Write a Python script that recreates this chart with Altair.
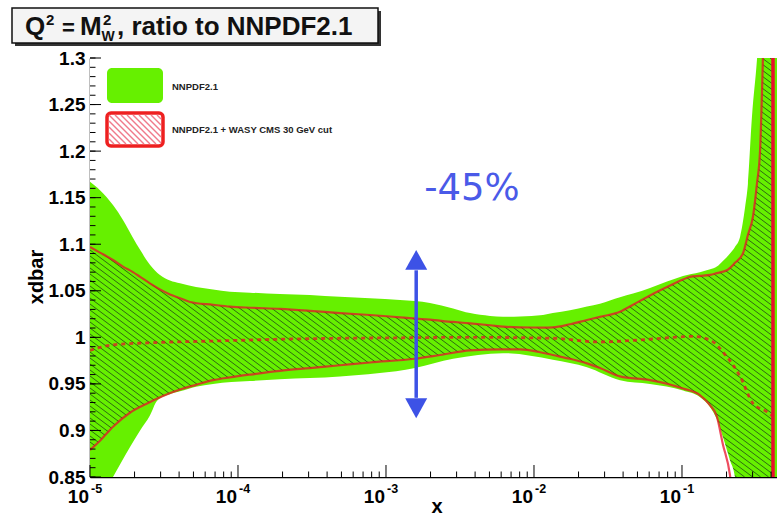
import altair as alt
import pandas as pd

# ---------------- data ----------------
green_up_x = [1.0e-5, 1.168e-5, 1.43e-5, 1.67e-5, 1.95e-5, 2.18e-5, 2.54e-5, 2.97e-5, 3.47e-5, 4.06e-5,
              5.20e-5, 6.78e-5, 8.83e-5, 1.205e-4, 1.92e-4, 3.06e-4, 4.89e-4, 7.80e-4, 1.245e-3, 1.98e-3,
              2.84e-3, 3.70e-3, 5.05e-3, 6.18e-3, 8.04e-3, 1.15e-2, 1.34e-2, 1.75e-2, 2.28e-2, 2.79e-2,
              3.81e-2, 4.67e-2, 6.08e-2, 7.92e-2, 1.016e-1, 1.32e-1, 1.55e-1, 1.72e-1, 1.89e-1, 2.11e-1,
              2.28e-1, 2.47e-1, 2.67e-1, 2.79e-1, 2.97e-1, 3.21e-1, 3.64e-1, 4.385e-1]
green_up_y = [1.167, 1.158, 1.142, 1.126, 1.107, 1.094, 1.078, 1.067, 1.061, 1.058,
              1.054, 1.0515, 1.049, 1.048, 1.0465, 1.0455, 1.0435, 1.042, 1.040, 1.037,
              1.031, 1.026, 1.023, 1.022, 1.0225, 1.024, 1.026, 1.029, 1.033, 1.036,
              1.043, 1.047, 1.053, 1.060, 1.066, 1.070, 1.073, 1.076, 1.082, 1.090,
              1.097, 1.108, 1.140, 1.165, 1.237, 1.298, 1.45, 1.6]

green_lo_x = [1.0e-5, 1.168e-5, 1.43e-5, 1.86e-5, 2.18e-5, 2.54e-5, 2.84e-5, 3.47e-5, 4.06e-5, 5.20e-5,
              6.78e-5, 1.205e-4, 1.92e-4, 4.89e-4, 1.57e-3, 2.84e-3, 6.18e-3, 1.34e-2, 2.28e-2, 3.81e-2,
              6.08e-2, 1.016e-1, 1.32e-1, 1.55e-1, 1.72e-1, 1.89e-1, 2.11e-1, 2.28e-1, 2.67e-1, 4.385e-1]
green_lo_y = [0.80, 0.825, 0.85, 0.882, 0.90, 0.916, 0.932, 0.939, 0.942, 0.947,
              0.950, 0.953, 0.955, 0.958, 0.967, 0.977, 0.983, 0.976, 0.968, 0.954,
              0.950, 0.943, 0.936, 0.925, 0.912, 0.893, 0.868, 0.850, 0.70, 0.60]

red_up_x = [1.0e-5, 1.168e-5, 1.43e-5, 1.67e-5, 1.95e-5, 2.18e-5, 2.54e-5, 2.97e-5, 3.47e-5, 4.06e-5,
            4.74e-5, 6.78e-5, 8.83e-5, 1.205e-4, 1.92e-4, 3.06e-4, 4.89e-4, 7.80e-4, 1.245e-3, 1.98e-3,
            2.84e-3, 3.70e-3, 5.05e-3, 6.18e-3, 8.04e-3, 1.15e-2, 1.34e-2, 1.75e-2, 2.28e-2, 2.79e-2,
            3.81e-2, 4.67e-2, 6.08e-2, 7.92e-2, 1.016e-1, 1.13e-1, 1.32e-1, 1.55e-1, 1.72e-1, 2.01e-1,
            2.28e-1, 2.58e-1, 2.79e-1, 3.02e-1, 3.21e-1, 3.37e-1, 3.52e-1, 3.75e-1, 4.12e-1]
red_up_y = [1.097, 1.091, 1.083, 1.076, 1.070, 1.065, 1.058, 1.0515, 1.046, 1.042,
            1.038, 1.035, 1.033, 1.0318, 1.0306, 1.0285, 1.026, 1.024, 1.0215, 1.019,
            1.0165, 1.015, 1.013, 1.0115, 1.0107, 1.0105, 1.0107, 1.014, 1.0186, 1.022,
            1.0275, 1.035, 1.045, 1.054, 1.062, 1.065, 1.066, 1.067, 1.069, 1.072,
            1.080, 1.090, 1.110, 1.130, 1.165, 1.201, 1.298, 1.5, 1.6]

red_lo_x = [1.0e-5, 1.168e-5, 1.43e-5, 1.86e-5, 2.43e-5, 3.11e-5, 4.06e-5, 5.20e-5, 6.78e-5, 8.83e-5,
            1.205e-4, 1.92e-4, 3.06e-4, 4.89e-4, 7.80e-4, 1.57e-3, 2.32e-3, 3.70e-3, 5.89e-3, 8.04e-3,
            1.10e-2, 1.34e-2, 1.75e-2, 2.28e-2, 2.79e-2, 3.81e-2, 6.08e-2, 1.016e-1, 1.32e-1, 1.55e-1,
            1.72e-1, 1.89e-1, 2.11e-1, 2.28e-1, 4.12e-1]
red_lo_y = [0.879, 0.889, 0.904, 0.919, 0.929, 0.937, 0.944, 0.949, 0.954, 0.957,
            0.960, 0.964, 0.967, 0.970, 0.973, 0.977, 0.981, 0.986, 0.987, 0.987,
            0.984, 0.981, 0.977, 0.972, 0.967, 0.958, 0.954, 0.945, 0.938, 0.927,
            0.915, 0.885, 0.852, 0.80, 0.50]

central_x = [1.0e-5, 1.43e-5, 2.43e-5, 6.78e-5, 1.92e-4, 4.89e-4, 1.245e-3, 3.70e-3, 1.34e-2, 2.79e-2,
             6.08e-2, 1.186e-1, 1.55e-1, 2.01e-1, 2.47e-1, 3.02e-1, 3.75e-1, 4.12e-1]
central_y = [0.986, 0.992, 0.994, 0.996, 0.998, 0.999, 0.9995, 1.0, 0.999, 0.995,
             0.998, 1.001, 0.997, 0.979, 0.958, 0.929, 0.920, 0.915]

y_tick_values = [0.85, 0.9, 0.95, 1.0, 1.05, 1.1, 1.15, 1.2, 1.25, 1.3]
y_minor_ticks = [round(0.85 + 0.01 * i, 2) for i in range(46)]
x_major_ticks = [1e-5, 1e-4, 1e-3, 1e-2, 1e-1]
x_major_base = ["10", "10", "10", "10", "10"]
x_major_exp = ["-5", "-4", "-3", "-2", "-1"]
X_DOMAIN = [1e-5, 0.4385]
Y_DOMAIN = [0.85, 1.3]
x_minor_ticks = [m * d for d in x_major_ticks for m in range(2, 10) if m * d <= X_DOMAIN[1]]

arrow_x = [1.60e-3]
arrow_line = [1.072, 0.935]
arrow_heads = [1.082, 0.925]
note_x = [3.81e-3]
note_y = [1.1475]
note_text = ["-45%"]

legend_labels = ["NNPDF2.1", "NNPDF2.1 + WASY CMS 30 GeV cut"]

# ---------------- styling ----------------
W, H = 687, 419
GREEN = "#66f000"
RED = "#e8102a"
HATCH = "#2f6a12"
BLUE = "#3d52e6"
FONT = "Liberation Sans"
TOP, BOTTOM = 3.0, 0.0   # far outside the y domain, clipped

xsc = alt.Scale(type="log", domain=X_DOMAIN, nice=False)
ysc = alt.Scale(domain=Y_DOMAIN, nice=False, zero=False)
x_axis = alt.Axis(labels=False, ticks=False, grid=False, title=None, domain=True,
                  domainColor="black", domainWidth=1.5)
y_axis = alt.Axis(values=y_tick_values, labelExpr="format(datum.value, '~g')", ticks=False,
                  grid=False, title=None, domain=True, domainColor="black", domainWidth=1.5,
                  labelFont=FONT, labelFontWeight="bold", labelFontSize=19, labelColor="black",
                  labelPadding=5, labelOverlap=False, labelFlush=False, labelBound=False)


def ex(field="x"):
    return alt.X(f"{field}:Q", scale=xsc, axis=x_axis)


def ey(field="y"):
    return alt.Y(f"{field}:Q", scale=ysc, axis=y_axis)


gu = pd.DataFrame({"x": green_up_x, "y": green_up_y})
gl = pd.DataFrame({"x": green_lo_x, "y": green_lo_y})
ru = pd.DataFrame({"x": red_up_x, "y": red_up_y})
rl = pd.DataFrame({"x": red_lo_x, "y": red_lo_y})
cc = pd.DataFrame({"x": central_x, "y": central_y})
one = pd.DataFrame({"a": [0]})

layers = []

# green background of the plot (band region), carved out below
layers.append(alt.Chart(one).mark_rect(color=GREEN)
              .encode(x=alt.value(0), x2=alt.value(W), y=alt.value(0), y2=alt.value(H)))

# hatch over the whole plot (later masked to the red band)
slope_dx = H / 0.75
hatch = alt.Chart(alt.sequence(-80, 95, as_="i")).transform_calculate(
    x0="datum.i * 8", x1=f"datum.i * 8 + {slope_dx}"
).mark_rule(color=HATCH, strokeWidth=1, clip=True).encode(
    x=alt.X("x0:Q", scale=None), x2="x1:Q", y=alt.value(0), y2=alt.value(H))
layers.append(hatch)

interp = "monotone"
# mask: green outside red band
layers.append(alt.Chart(ru).mark_area(color=GREEN, clip=True, interpolate=interp)
              .encode(x=ex(), y=ey(), y2=alt.datum(TOP)))
layers.append(alt.Chart(rl).mark_area(color=GREEN, clip=True, interpolate=interp)
              .encode(x=ex(), y=ey(), y2=alt.datum(BOTTOM)))
edge = pd.DataFrame({"x": [red_up_x[-1]], "x2": [X_DOMAIN[1]]})
layers.append(alt.Chart(edge).mark_rect(color=GREEN, clip=True)
              .encode(x=ex(), x2="x2:Q", y=alt.value(0), y2=alt.value(H)))
# mask: white outside green band
layers.append(alt.Chart(gu).mark_area(color="white", clip=True, interpolate=interp)
              .encode(x=ex(), y=ey(), y2=alt.datum(TOP)))
layers.append(alt.Chart(gl).mark_area(color="white", clip=True, interpolate=interp)
              .encode(x=ex(), y=ey(), y2=alt.datum(BOTTOM)))

# red lines
for df in (ru, rl):
    layers.append(alt.Chart(df).mark_line(color=RED, opacity=0.75, strokeWidth=2.2, clip=True,
                                          interpolate=interp).encode(x=ex(), y=ey()))
layers.append(alt.Chart(cc).mark_line(color=RED, opacity=0.75, strokeWidth=2.8, strokeDash=[4, 4],
                                      clip=True, interpolate=interp).encode(x=ex(), y=ey()))
layers.append(alt.Chart(pd.DataFrame({"x": [red_up_x[-1]]})).mark_rule(color=RED, strokeWidth=3.5)
              .encode(x=ex(), y=alt.value(0), y2=alt.value(H)))

# ticks (inside)
ymaj = pd.DataFrame({"v": y_tick_values})
ymin = pd.DataFrame({"v": y_minor_ticks})
layers.append(alt.Chart(ymin).mark_rule(color="black", strokeWidth=1)
              .encode(y=ey("v"), x=alt.value(0), x2=alt.value(5.5)))
layers.append(alt.Chart(ymaj).mark_rule(color="black", strokeWidth=1)
              .encode(y=ey("v"), x=alt.value(0), x2=alt.value(11)))
xmaj = pd.DataFrame({"v": x_major_ticks, "b": x_major_base, "e": x_major_exp})
xmin = pd.DataFrame({"v": x_minor_ticks})
layers.append(alt.Chart(xmin).mark_rule(color="black", strokeWidth=1)
              .encode(x=ex("v"), y=alt.value(H), y2=alt.value(H - 5.5)))
layers.append(alt.Chart(xmaj).mark_rule(color="black", strokeWidth=1)
              .encode(x=ex("v"), y=alt.value(H), y2=alt.value(H - 12)))
layers.append(alt.Chart(xmaj).mark_text(align="right", baseline="alphabetic", dx=-1, font=FONT,
                                        fontWeight="bold", fontSize=19, color="black")
              .encode(x=ex("v"), y=alt.value(H + 26), text="b:N"))
layers.append(alt.Chart(xmaj).mark_text(align="left", baseline="alphabetic", dx=1, font=FONT,
                                        fontWeight="bold", fontSize=12.5, color="black")
              .encode(x=ex("v"), y=alt.value(H + 16), text="e:N"))

# axis titles
layers.append(alt.Chart(pd.DataFrame({"t": ["xdbar"]})).mark_text(
    angle=270, align="center", baseline="middle", font=FONT, fontWeight="bold", fontSize=20,
    color="black").encode(x=alt.value(-53), y=alt.value(219), text="t:N"))
layers.append(alt.Chart(pd.DataFrame({"t": ["x"]})).mark_text(
    align="center", baseline="middle", font=FONT, fontWeight="bold", fontSize=20,
    color="black").encode(x=alt.value(347), y=alt.value(449), text="t:N"))

# legend
layers.append(alt.Chart(one).mark_rect(color=GREEN, cornerRadius=5)
              .encode(x=alt.value(17), x2=alt.value(73), y=alt.value(10), y2=alt.value(45)))
layers.append(alt.Chart(one).mark_rect(fill="white", stroke="#ee2020", strokeWidth=3.5, cornerRadius=4)
              .encode(x=alt.value(17), x2=alt.value(73), y=alt.value(55), y2=alt.value(88)))
X0, Y0, WB, HB = 19, 57, 52, 29
leg_hatch = alt.Chart(alt.sequence(-5, 9, as_="i")).transform_calculate(
    c="datum.i * 6",
).transform_calculate(
    xs=f"{X0} + max(datum.c, 0)", ys=f"{Y0} + max(-datum.c, 0)",
    xe=f"{X0} + min(datum.c + {HB}, {WB})", ye=f"{Y0} + min({HB}, {WB} - datum.c)"
).transform_filter(f"datum.c > -{HB} && datum.c < {WB}").mark_rule(color="#f07a8a", strokeWidth=1.4).encode(
    x=alt.X("xs:Q", scale=None), x2="xe:Q", y=alt.Y("ys:Q", scale=None), y2="ye:Q")
layers.append(leg_hatch)
for lab, yy in zip(legend_labels, [29, 72]):
    layers.append(alt.Chart(pd.DataFrame({"t": [lab]})).mark_text(
        align="left", baseline="middle", font=FONT, fontWeight="bold", fontSize=9.5, color="#222")
        .encode(x=alt.value(82), y=alt.value(yy), text="t:N"))

# title box
layers.append(alt.Chart(one).mark_rect(color="#333")
              .encode(x=alt.value(-75), x2=alt.value(291), y=alt.value(-47), y2=alt.value(-12)))
layers.append(alt.Chart(one).mark_rect(fill="#f4f4f4", stroke="#111", strokeWidth=1.5)
              .encode(x=alt.value(-78), x2=alt.value(288), y=alt.value(-50), y2=alt.value(-15)))
title_parts = [("Q", -65, -23, 26), ("2", -44, -33, 15), ("=", -28, -23, 22), ("M", -10, -23, 26),
               ("2", 13, -33, 15), ("W", 11.5, -17, 14), (", ratio to NNPDF2.1", 27, -23, 26)]
for t, px, py, fs in title_parts:
    layers.append(alt.Chart(pd.DataFrame({"t": [t]})).mark_text(
        align="left", baseline="alphabetic", font=FONT, fontWeight="bold", fontSize=fs, color="#111")
        .encode(x=alt.value(px), y=alt.value(py), text="t:N"))

# arrow and annotation
adf = pd.DataFrame({"x": arrow_x, "y": [arrow_line[0]], "y2": [arrow_line[1]]})
layers.append(alt.Chart(adf).mark_rule(color=BLUE, strokeWidth=3.5).encode(x=ex(), y=ey(), y2="y2:Q"))
layers.append(alt.Chart(pd.DataFrame({"x": arrow_x, "y": [arrow_heads[0]]})).mark_point(
    shape="M0,-1L1,0.8L-1,0.8Z", size=484, filled=True, color=BLUE, opacity=1)
    .encode(x=ex(), y=ey()))
layers.append(alt.Chart(pd.DataFrame({"x": arrow_x, "y": [arrow_heads[1]]})).mark_point(
    shape="M0,1L1,-0.8L-1,-0.8Z", size=484, filled=True, color=BLUE, opacity=1)
    .encode(x=ex(), y=ey()))
layers.append(alt.Chart(pd.DataFrame({"x": note_x, "y": note_y, "t": note_text})).mark_text(
    align="center", baseline="alphabetic", font="DejaVu Sans", fontSize=37, color="#4a5ae8")
    .encode(x=ex(), y=ey(), text="t:N"))

chart = alt.layer(*layers).properties(
    width=W, height=H,
    autosize=alt.AutoSizeParams(type="none"),
    padding={"left": 90, "top": 58, "right": 0, "bottom": 40},
).configure_view(stroke="#666", strokeWidth=1.5).configure(background="white")

chart.save("out.html", embed_options={"renderer": "svg", "actions": False})
